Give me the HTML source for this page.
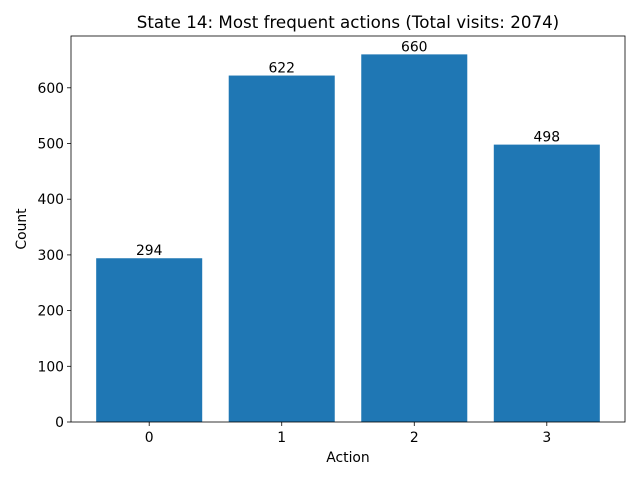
<!DOCTYPE html>
<html><head><meta charset="utf-8"><style>
body{margin:0;background:#fff;}
svg{font-family:"DejaVu Sans","Liberation Sans",sans-serif;}
</style></head><body>
<svg id="chart" width="640" height="480" xmlns="http://www.w3.org/2000/svg">
<rect width="640" height="480" fill="#fff"/>
<text x="348" y="28" text-anchor="middle" font-size="16.7">State 14: Most frequent actions (Total visits: 2074)</text>
<g id="plot"></g>
<text x="348" y="462" text-anchor="middle" font-size="13.9">Action</text>
<text transform="translate(26,229) rotate(-90)" text-anchor="middle" font-size="13.9">Count</text>
</svg>
<script>
const categories=["0","1","2","3"];
const counts=[294,622,660,498];
const yTicks=[0,100,200,300,400,500,600];
const L=71,R=625,T=36,B=422;
const ymax=Math.max(...counts)*1.05;
const xmin=-0.59,xmax=categories.length-1+0.59;
const xs=v=>L+(v-xmin)/(xmax-xmin)*(R-L);
const ys=v=>B-v/ymax*(B-T);
const g=document.getElementById('plot');
const NS="http://www.w3.org/2000/svg";
function mk(t,a){const e=document.createElementNS(NS,t);for(const k in a)e.setAttribute(k,a[k]);g.appendChild(e);return e;}
counts.forEach((c,i)=>{
 const r=mk('rect',{x:xs(i-0.4),y:ys(c),width:xs(i+0.4)-xs(i-0.4),height:B-ys(c),fill:'#1f77b4'});
 
 
 const t=mk('text',{x:xs(i),y:ys(c)-3,'text-anchor':'middle','font-size':13.9});
 t.textContent=c;
 
 
 mk('line',{x1:xs(i),x2:xs(i),y1:B,y2:B+4,stroke:'#000','stroke-width':0.8});
 const xl=mk('text',{x:xs(i),y:B+20,'text-anchor':'middle','font-size':13.9});
 xl.textContent=categories[i];
 
 
});
yTicks.forEach(v=>{
 mk('line',{x1:L-4,x2:L,y1:ys(v),y2:ys(v),stroke:'#000','stroke-width':0.8});
 const t=mk('text',{x:L-7,y:ys(v)+5,'text-anchor':'end','font-size':13.9});
 t.textContent=v;
 
 
});
const f=mk('rect',{x:L,y:T,width:R-L,height:B-T,fill:'none',stroke:'#000','stroke-width':0.8});


</script>
</body></html>
